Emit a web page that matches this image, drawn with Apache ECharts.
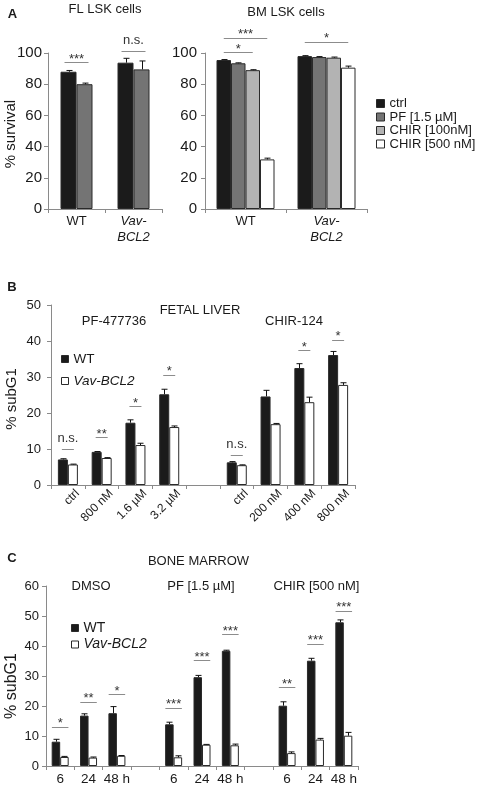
<!DOCTYPE html>
<html><head><meta charset="utf-8">
<script src="https://cdn.jsdelivr.net/npm/echarts@6/dist/echarts.min.js"></script>
<style>html,body{margin:0;padding:0;background:#fff}#c{width:477px;height:787px}</style>
</head><body><div id="c"></div>
<script>
// ---------- Panel A data ----------
const aGroups = ['WT', 'Vav-BCL2'];
const aNames = ['ctrl', 'PF [1.5 µM]', 'CHIR [100nM]', 'CHIR [500 nM]'];
const aTicks = [0, 20, 40, 60, 80, 100];
// FL LSK cells
const flCtrl = [88.0, 93.8];
const flCtrlErr = [0.8, 2.8];
const flPF = [80.0, 89.5];
const flPFErr = [0.7, 5.4];
const flSig = [
  {cat: 0, from: 0, to: 1, y: 94.2, text: '***'},
  {cat: 1, from: 0, to: 1, y: 101.3, text: 'n.s.'}
];
// BM LSK cells
const bmCtrl = [95.5, 98.0];
const bmCtrlErr = [0.3, 0.3];
const bmPF = [93.4, 97.4];
const bmPFErr = [0.3, 0.3];
const bmChir100 = [89.0, 97.0];
const bmChir100Err = [0.3, 0.4];
const bmChir500 = [31.8, 90.6];
const bmChir500Err = [0.8, 1.0];
const bmSig = [
  {cat: 0, from: 0, to: 2, y: 100.6, text: '*'},
  {cat: 0, from: 0, to: 3, y: 109.8, text: '***'},
  {cat: 1, from: 0, to: 3, y: 107.2, text: '*'}
];

// ---------- Panel B data (FETAL LIVER) ----------
const bCats = ['ctrl', '800 nM', '1.6 µM', '3.2 µM', '', 'ctrl', '200 nM', '400 nM', '800 nM'];
const bTicks = [0, 10, 20, 30, 40, 50];
const bWT = [7.1, 9.2, 17.3, 25.2, null, 6.3, 24.6, 32.5, 36.1];
const bWTErr = [0.2, 0.1, 0.8, 1.4, null, 0.2, 1.7, 1.2, 1.0];
const bVav = [5.7, 7.5, 11.1, 16.1, null, 5.5, 16.9, 23.0, 27.8];
const bVavErr = [0.1, 0.1, 0.5, 0.3, null, 0.1, 0.2, 1.4, 0.6];
const bSig = [
  {cat: 0, from: 0, to: 1, y: 9.9, text: 'n.s.'},
  {cat: 1, from: 0, to: 1, y: 13.3, text: '**'},
  {cat: 2, from: 0, to: 1, y: 21.9, text: '*'},
  {cat: 3, from: 0, to: 1, y: 30.6, text: '*'},
  {cat: 5, from: 0, to: 1, y: 8.3, text: 'n.s.'},
  {cat: 7, from: 0, to: 1, y: 37.4, text: '*'},
  {cat: 8, from: 0, to: 1, y: 40.4, text: '*'}
];

// ---------- Panel C data (BONE MARROW) ----------
const cCats = ['6', '24', '48 h', '', '6', '24', '48 h', '', '6', '24', '48 h'];
const cTicks = [0, 10, 20, 30, 40, 50, 60];
const cWT = [8.1, 16.8, 17.6, null, 13.9, 29.6, 38.4, null, 20.1, 35.1, 47.9];
const cWTErr = [0.8, 0.6, 2.2, null, 0.7, 0.6, 0.2, null, 1.3, 0.8, 0.8];
const cVav = [3.0, 2.8, 3.4, null, 2.9, 7.1, 6.9, null, 4.3, 8.8, 10.1];
const cVavErr = [0.2, 0.2, 0.1, null, 0.5, 0.1, 0.4, null, 0.4, 0.4, 1.1];
const cSig = [
  {cat: 0, from: 0, to: 1, y: 13.1, text: '*'},
  {cat: 1, from: 0, to: 1, y: 21.4, text: '**'},
  {cat: 2, from: 0, to: 1, y: 23.9, text: '*'},
  {cat: 4, from: 0, to: 1, y: 19.4, text: '***'},
  {cat: 5, from: 0, to: 1, y: 35.2, text: '***'},
  {cat: 6, from: 0, to: 1, y: 43.9, text: '***'},
  {cat: 8, from: 0, to: 1, y: 26.2, text: '**'},
  {cat: 9, from: 0, to: 1, y: 40.7, text: '***'},
  {cat: 10, from: 0, to: 1, y: 51.8, text: '***'}
];

// ---------- styling ----------
const FONT = "'Liberation Sans', Arial, sans-serif";
const TXT = '#1a1a1a';
const AXC = '#8a8a8a';
const colors = {ctrl: '#1b1b1b', pf: '#747474', c100: '#b3b3b3', c500: '#ffffff', wt: '#1b1b1b', vav: '#ffffff'};

function bars(name, data, gi, color, bw) {
  return {type: 'bar', name, data, xAxisIndex: gi, yAxisIndex: gi, barWidth: bw, barGap: '0%',
    itemStyle: {color, borderColor: '#2a2a2a', borderWidth: 1}, silent: true, animation: false, z: 2};
}
function errs(vals, es, gi, idx, n, bw) {
  const data = [];
  vals.forEach((v, i) => { if (v != null) data.push([i, v, es[i]]); });
  return {type: 'custom', xAxisIndex: gi, yAxisIndex: gi, data, z: 5, silent: true, animation: false,
    renderItem(params, api) {
      const b = api.coord([api.value(0), api.value(1)]);
      const t = api.coord([api.value(0), api.value(1) + api.value(2)]);
      const cx = Math.round(b[0] + (idx - (n - 1) / 2) * bw) + 0.5;
      const st = {stroke: '#111', lineWidth: 1};
      return {type: 'group', children: [
        {type: 'line', shape: {x1: cx, y1: b[1], x2: cx, y2: t[1]}, style: st},
        {type: 'line', shape: {x1: cx - 3, y1: t[1], x2: cx + 3, y2: t[1]}, style: st}
      ]};
    }};
}
function sigs(list, gi, n, bw, pad) {
  return {type: 'custom', xAxisIndex: gi, yAxisIndex: gi, data: list.map(s => [s.cat, s.y]), z: 6,
    silent: true, animation: false, clip: false,
    renderItem(params, api) {
      const s = list[params.dataIndex];
      const p = api.coord([s.cat, s.y]);
      const x1 = p[0] + (s.from - (n - 1) / 2) * bw - pad;
      const x2 = p[0] + (s.to - (n - 1) / 2) * bw + pad;
      const y = Math.round(p[1]) + 0.5;
      const off = s.text === 'n.s.' ? 10.5 : 3;
      return {type: 'group', children: [
        {type: 'line', shape: {x1, y1: y, x2, y2: y}, style: {stroke: '#8c8c8c', lineWidth: 1}},
        {type: 'text', x: (x1 + x2) / 2, y: p[1] - off,
          style: {text: s.text, fill: '#333', font: '13px ' + FONT, textAlign: 'center', textVerticalAlign: 'middle'}}
      ]};
    }};
}
function yAxis(gi, ticks, fs, margin) {
  return {type: 'value', gridIndex: gi, min: ticks[0], max: ticks[ticks.length - 1], interval: ticks[1] - ticks[0],
    axisLine: {show: true, lineStyle: {color: AXC}}, axisTick: {show: true, length: 4, lineStyle: {color: AXC}},
    splitLine: {show: false}, axisLabel: {color: TXT, fontSize: fs, fontFamily: FONT, margin}};
}
function xAxis(gi, cats, label) {
  return {type: 'category', gridIndex: gi, data: cats,
    axisLine: {show: true, lineStyle: {color: AXC}}, axisTick: {show: true, length: 4, interval: 0, lineStyle: {color: AXC}},
    axisLabel: Object.assign({color: TXT, fontFamily: FONT, interval: 0}, label)};
}
const aLabel = {fontSize: 13, margin: 4, lineHeight: 16,
  formatter: v => v === 'Vav-BCL2' ? '{i|Vav-}\n{i|BCL2}' : v,
  rich: {i: {fontStyle: 'italic', fontSize: 13, lineHeight: 16, fontFamily: FONT, color: TXT}}};

const option = {
  backgroundColor: '#fff',
  animation: false,
  grid: [
    {left: 48, top: 53, width: 114, height: 156},
    {left: 205, top: 53, width: 162, height: 156},
    {left: 51, top: 305, width: 304, height: 180},
    {left: 46, top: 586, width: 312, height: 180}
  ],
  xAxis: [
    xAxis(0, aGroups, aLabel),
    xAxis(1, aGroups, aLabel),
    xAxis(2, bCats, {fontSize: 12, rotate: 45, verticalAlign: 'top', lineHeight: 27, margin: -3}),
    xAxis(3, cCats, {fontSize: 13.5, margin: 6})
  ],
  yAxis: [
    yAxis(0, aTicks, 15, 6),
    yAxis(1, aTicks, 15, 8),
    yAxis(2, bTicks, 13, 10),
    yAxis(3, cTicks, 13, 7)
  ],
  legend: [
    {data: aNames, orient: 'vertical', left: 376, top: 97, itemWidth: 8, itemHeight: 8, itemGap: 0.5, padding: 0,
      icon: 'rect', itemStyle: {borderColor: '#2a2a2a', borderWidth: 1},
      textStyle: {fontSize: 13, color: TXT, fontFamily: FONT}, selectedMode: false},
    {data: [{name: 'WT'}, {name: 'Vav-BCL2', textStyle: {fontStyle: 'italic'}}], orient: 'vertical', left: 61, top: 352,
      itemWidth: 7, itemHeight: 7, itemGap: 8, padding: 0, icon: 'rect', itemStyle: {borderColor: '#2a2a2a', borderWidth: 1},
      textStyle: {fontSize: 13.5, color: TXT, fontFamily: FONT}, selectedMode: false},
    {data: [{name: 'WT'}, {name: 'Vav-BCL2', textStyle: {fontStyle: 'italic'}}], orient: 'vertical', left: 71, top: 621,
      itemWidth: 7, itemHeight: 7, itemGap: 2.5, padding: 0, icon: 'rect', itemStyle: {borderColor: '#2a2a2a', borderWidth: 1},
      textStyle: {fontSize: 14, color: TXT, fontFamily: FONT}, selectedMode: false}
  ],
  series: [
    bars(aNames[0], flCtrl, 0, colors.ctrl, 16),
    bars(aNames[1], flPF, 0, colors.pf, 16),
    errs(flCtrl, flCtrlErr, 0, 0, 2, 16),
    errs(flPF, flPFErr, 0, 1, 2, 16),
    sigs(flSig, 0, 2, 16, 4),

    bars(aNames[0], bmCtrl, 1, colors.ctrl, 14.5),
    bars(aNames[1], bmPF, 1, colors.pf, 14.5),
    bars(aNames[2], bmChir100, 1, colors.c100, 14.5),
    bars(aNames[3], bmChir500, 1, colors.c500, 14.5),
    errs(bmCtrl, bmCtrlErr, 1, 0, 4, 14.5),
    errs(bmPF, bmPFErr, 1, 1, 4, 14.5),
    errs(bmChir100, bmChir100Err, 1, 2, 4, 14.5),
    errs(bmChir500, bmChir500Err, 1, 3, 4, 14.5),
    sigs(bmSig, 1, 4, 14.5, 0),

    bars('WT', bWT, 2, colors.wt, 10),
    bars('Vav-BCL2', bVav, 2, colors.vav, 10),
    errs(bWT, bWTErr, 2, 0, 2, 10),
    errs(bVav, bVavErr, 2, 1, 2, 10),
    sigs(bSig, 2, 2, 10, 1),

    bars('WT', cWT, 3, colors.wt, 8.5),
    bars('Vav-BCL2', cVav, 3, colors.vav, 8.5),
    errs(cWT, cWTErr, 3, 0, 2, 8.5),
    errs(cVav, cVavErr, 3, 1, 2, 8.5),
    sigs(cSig, 3, 2, 8.5, 4)
  ],
  graphic: [
    ['A', 12.5, 14, 13, 'bold', 0],
    ['FL LSK cells', 105, 9.5, 13, 'normal', 0],
    ['BM LSK cells', 286, 12, 13, 'normal', 0],
    ['% survival', 10.5, 134, 15, 'normal', 1],
    ['B', 12, 287, 13, 'bold', 0],
    ['FETAL LIVER', 200, 310.5, 13, 'normal', 0],
    ['PF-477736', 114, 321, 13, 'normal', 0],
    ['CHIR-124', 294, 321, 13, 'normal', 0],
    ['% subG1', 11.7, 399, 15, 'normal', 1],
    ['C', 12, 558, 13, 'bold', 0],
    ['BONE MARROW', 198.5, 561.7, 13, 'normal', 0],
    ['DMSO', 91, 586, 13, 'normal', 0],
    ['PF [1.5 µM]', 201, 586, 13, 'normal', 0],
    ['CHIR [500 nM]', 316.5, 586, 13, 'normal', 0],
    ['% subG1', 11.7, 686, 16, 'normal', 1]
  ].map(([text, x, y, fs, fw, rot]) => ({type: 'text', x, y, rotation: rot ? Math.PI / 2 : 0, silent: true,
    style: {text, fill: TXT, font: fw + ' ' + fs + 'px ' + FONT, textAlign: 'center', textVerticalAlign: 'middle'}}))
};
const chart = echarts.init(document.getElementById('c'), null, {renderer: 'canvas'});
chart.setOption(option);
</script>
</body></html>
